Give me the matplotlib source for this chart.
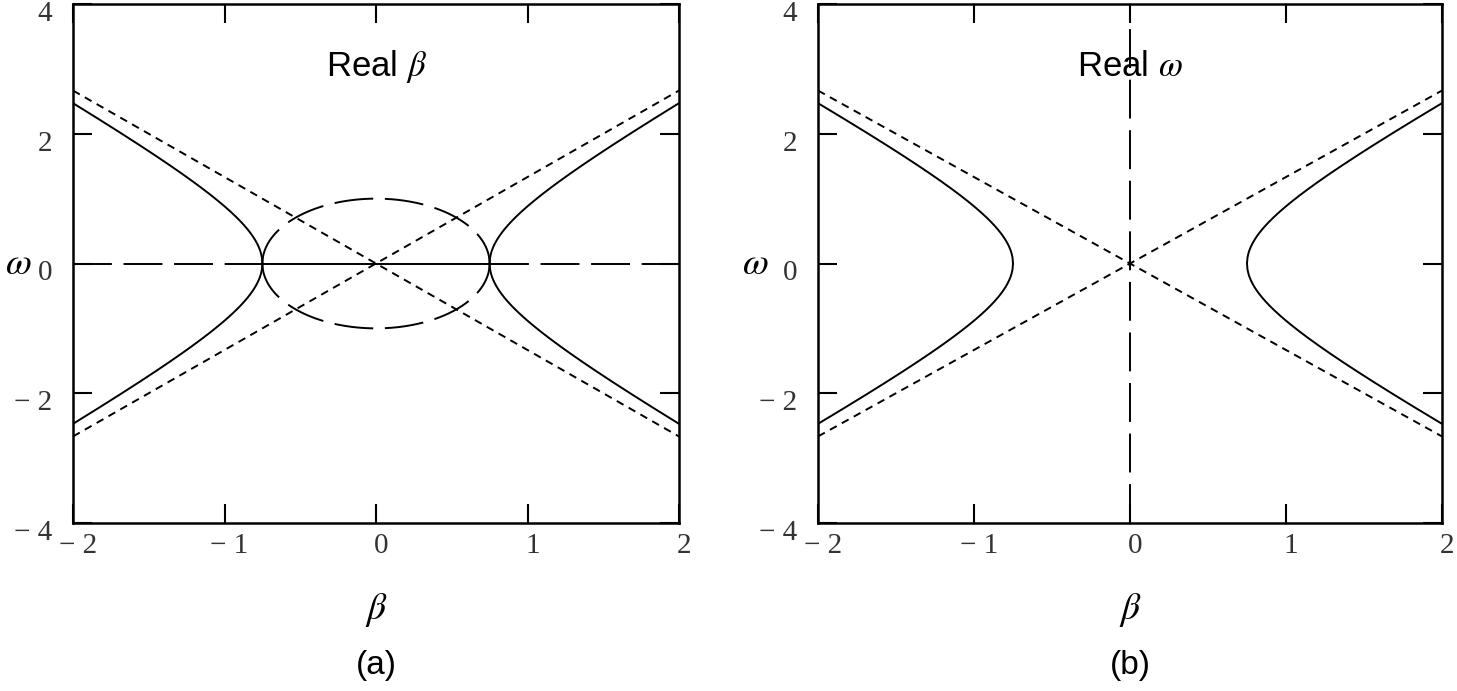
import numpy as np
import matplotlib.pyplot as plt
import matplotlib.transforms as mtransforms
from matplotlib.ticker import FuncFormatter

# values
beta_cut = 0.75        # where the solid branches cross omega = 0
omega_cut = 1.0        # height of the dashed ellipse in (a)
slope = 1.333          # slope of the dotted asymptotes (omega = +/- slope * beta)
beta_range = [-2, 2]
omega_range = [-4, 4]
xticks = [-2, -1, 0, 1, 2]
yticks = [-4, -2, 0, 2, 4]
panel_titles = [r'Real $\beta$', r'Real $\omega$']
panel_tags = ['(a)', '(b)']

plt.rcParams['mathtext.fontset'] = 'stix'

fig = plt.figure(figsize=(14.57, 6.91), dpi=100)
ax_a = fig.add_axes([73/1457, 1-523/691, 606/1457, 519/691])
ax_b = fig.add_axes([818/1457, 1-523/691, 624/1457, 519/691])

lw = 1.4
short = (4, 3)
long = (20, 6)

b_out = np.linspace(beta_cut, beta_range[1], 400)
w_out = slope * np.sqrt(b_out**2 - beta_cut**2)
b_in = np.linspace(-beta_cut, beta_cut, 400)
w_in = omega_cut * np.sqrt(np.clip(1 - (b_in/beta_cut)**2, 0, None))
b_line = np.array(beta_range)


def fmt(v, pos):
    v = int(round(v))
    return '\u2212 %d' % abs(v) if v < 0 else '%d' % v


def common(ax, ylab_x):
    # solid branches
    for s in (1, -1):
        ax.plot(b_out, s*w_out, color='black', lw=lw)
        ax.plot(-b_out, s*w_out, color='black', lw=lw)
    # asymptotes
    ax.plot(b_line, slope*b_line, color='black', lw=lw, dashes=short)
    ax.plot(b_line, -slope*b_line, color='black', lw=lw, dashes=short)
    ax.set_xlim(beta_range)
    ax.set_ylim(omega_range)
    ax.set_xticks(xticks)
    ax.set_yticks(yticks)
    ax.xaxis.set_major_formatter(FuncFormatter(fmt))
    ax.yaxis.set_major_formatter(FuncFormatter(fmt))
    ax.tick_params(direction='in', length=14, width=1.5, top=True, right=True,
                   labelsize=21, colors='black', labelcolor='#333333')
    ax.tick_params(axis='x', pad=7)
    ax.tick_params(axis='y', pad=15)
    for lab in ax.get_xticklabels() + ax.get_yticklabels():
        lab.set_fontfamily('Liberation Serif')
    dx = mtransforms.ScaledTranslation(5/100, 0, fig.dpi_scale_trans)
    dy = mtransforms.ScaledTranslation(0, -7/100, fig.dpi_scale_trans)
    for lab in ax.get_xticklabels():
        lab.set_transform(lab.get_transform() + dx)
    for lab in ax.get_yticklabels():
        lab.set_transform(lab.get_transform() + dy)
    for sp in ax.spines.values():
        sp.set_linewidth(1.8)
    ax.set_xlabel(r'$\beta$', fontsize=27, va='center')
    ax.xaxis.set_label_coords(0.5, -0.168)
    ax.set_ylabel(r'$\omega$', fontsize=27, rotation=0, va='center', ha='center')
    ax.yaxis.set_label_coords(ylab_x, 0.5)


common(ax_a, -0.091)
common(ax_b, -0.101)

# (a): dashed ellipse and the omega = 0 line
ax_a.plot(b_in, w_in, color='black', lw=lw, dashes=long)
ax_a.plot(b_in, -w_in, color='black', lw=lw, dashes=long)
ax_a.plot([-beta_cut, beta_cut], [0, 0], color='black', lw=lw)
ax_a.plot([beta_range[0], -beta_cut], [0, 0], color='black', lw=lw, dashes=long)
ax_a.plot([beta_cut, beta_range[1]], [0, 0], color='black', lw=lw, dashes=long)

# (b): dashed vertical line at beta = 0
ax_b.plot([0, 0], omega_range, color='black', lw=lw, dashes=long)

for ax, title, tag in zip([ax_a, ax_b], panel_titles, panel_tags):
    ax.text(0.5, 0.861, title, transform=ax.transAxes, ha='center', va='baseline',
            fontsize=25, fontfamily='Liberation Sans')
    ax.text(0.5, -0.274, tag, transform=ax.transAxes, ha='center', va='center',
            fontsize=24, fontfamily='Liberation Sans')

fig.savefig('out.png', dpi=100)
